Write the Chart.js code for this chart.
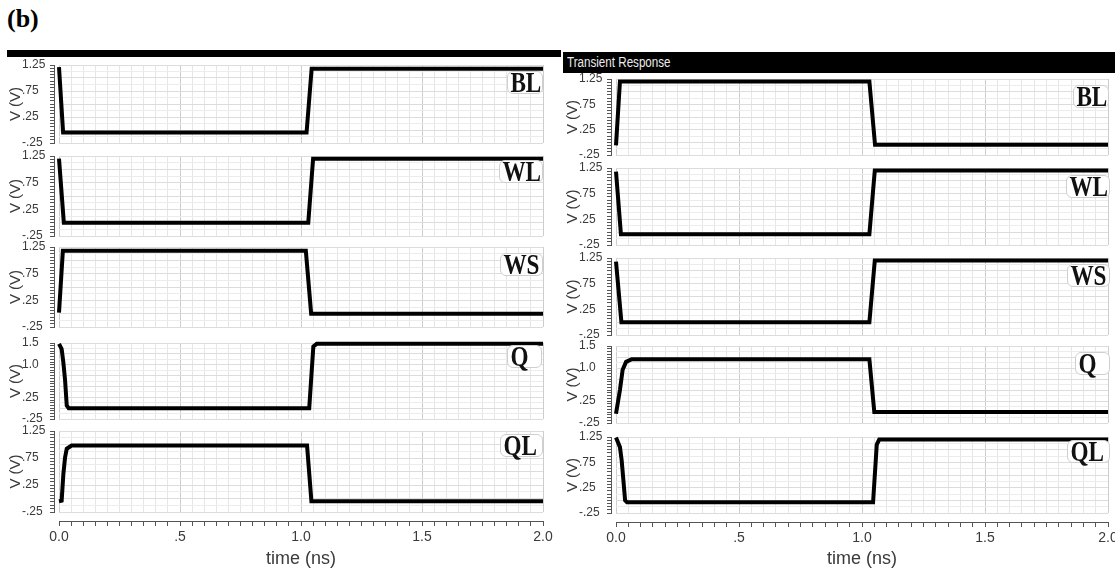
<!DOCTYPE html>
<html>
<head>
<meta charset="utf-8">
<title>Transient Response</title>
<script src="https://cdn.jsdelivr.net/npm/chart.js@4.4.1/dist/chart.umd.min.js"></script>
<style>
  html, body { margin: 0; padding: 0; background: #fff; width: 1115px; height: 572px; overflow: hidden; position: relative; }
  .plot { position: absolute; }
  .bar { position: absolute; background: #000; }
  .bar span { position: absolute; left: 4px; top: 1px; color: #ececec; font: 14px 'Liberation Sans Narrow', 'Liberation Sans', Arial, sans-serif; line-height: 19px; white-space: nowrap; transform: scaleX(0.83); transform-origin: 0 0; }
  .fig { position: absolute; left: 7px; top: 6px; font: bold 26px 'Liberation Serif', 'Times New Roman', serif; line-height: 26px; color: #000; }
  .sig { position: absolute; height: 23px; box-sizing: border-box; border: 1px solid #cfcfcf; border-radius: 6px; background: #fff; z-index: 5; }
  .sig span { display: block; transform: scaleX(0.8); transform-origin: 0 0; font: bold 29px 'Liberation Serif', 'Times New Roman', serif; line-height: 21px; color: #111; padding-left: 3px; white-space: nowrap; }
</style>
</head>
<body>
<div class="fig">(b)</div>
<div class="bar" style="left:7px;top:50px;width:554px;height:7px;"></div>
<div class="bar" style="left:563px;top:52px;width:552px;height:21px;"><span>Transient Response</span></div>

<script>
// ---- axis ticks ----
const xTickValues = [0, 0.5, 1.0, 1.5, 2.0];
const xTickText = ['0.0', '.5', '1.0', '1.5', '2.0'];
const vTickValues = [-0.25, 0.25, 0.75, 1.25];
const vTickText = ['-.25', '.25', '.75', '1.25'];
const qTickValues = [-0.25, 0.25, 1.0, 1.5];
const qTickText = ['-.25', '.25', '1.0', '1.5'];

const signalNames = ['BL', 'WL', 'WS', 'Q', 'QL'];

// ---- left column waveforms: time (ns) / voltage (V) ----
const tBL1 = [0, 0.017, 1.023, 1.044, 2.0];
const vBL1 = [1.21, -0.05, -0.05, 1.18, 1.18];
const tWL1 = [0, 0.02, 1.03, 1.05, 2.0];
const vWL1 = [1.2, 0, 0, 1.2, 1.2];
const tWS1 = [0, 0.016, 1.02, 1.042, 2.0];
const vWS1 = [0.02, 1.18, 1.18, 0, 0];
const tQ1 = [0, 0.011, 0.018, 0.025, 0.032, 0.04, 1.034, 1.051, 1.065, 2.0];
const vQ1 = [1.48, 1.36, 1.05, 0.65, 0.06, 0, 0, 1.42, 1.48, 1.48];
const tQL1 = [0, 0.011, 0.018, 0.025, 0.032, 0.052, 1.025, 1.043, 2.0];
const vQL1 = [-0.05, -0.04, 0.45, 0.76, 0.92, 0.98, 0.98, -0.05, -0.05];

// ---- right column waveforms ----
const tBL2 = [0, 0.016, 1.03, 1.053, 2.0];
const vBL2 = [-0.06, 1.2, 1.2, -0.05, -0.05];
const tWL2 = [0, 0.02, 1.03, 1.052, 2.0];
const vWL2 = [1.18, -0.04, -0.04, 1.2, 1.2];
const tWS2 = [0, 0.022, 1.03, 1.052, 2.0];
const vWS2 = [1.18, 0, 0, 1.2, 1.2];
const tQ2 = [0, 0.016, 0.027, 0.041, 0.064, 1.03, 1.05, 2.0];
const vQ2 = [-0.04, 0.5, 0.96, 1.14, 1.2, 1.2, 0, 0];
const tQL2 = [0, 0.016, 0.023, 0.03, 0.037, 0.045, 1.045, 1.06, 1.07, 2.0];
const vQL2 = [1.24, 1.05, 0.79, 0.4, 0.0, -0.04, -0.04, 1.1, 1.2, 1.2];

const NARROW = "'Liberation Sans Narrow', 'Liberation Sans', Arial, sans-serif";
const SANS = "'Liberation Sans', Arial, sans-serif";
const AXIS_GREY = '#555';
const TEXT_GREY = '#3a3a3a';
const PAGE_H = 572;

const columns = [
  {
    left: 7, width: 550,
    areas: [[65, 143], [156, 236], [247, 327], [343, 419], [431, 512]],
    series: [[tBL1, vBL1], [tWL1, vWL1], [tWS1, vWS1], [tQ1, vQ1], [tQL1, vQL1]],
    labels: [[507, 71, 36], [499, 160, 44], [500, 253, 43], [507, 345, 35], [500, 434, 43]]
  },
  {
    left: 564, width: 558,
    areas: [[79, 155], [168, 245], [258, 335], [346, 423], [437, 513]],
    series: [[tBL2, vBL2], [tWL2, vWL2], [tWS2, vWS2], [tQ2, vQ2], [tQL2, vQL2]],
    labels: [[1073, 85, 36], [1066, 175, 44], [1067, 264, 43], [1075, 352, 35], [1067, 440, 43]]
  }
];

function steps(min, max, step) {
  const out = [];
  const n = Math.round((max - min) / step);
  for (let i = 0; i <= n; i++) out.push(+(min + i * step).toFixed(6));
  return out;
}
function near(a, b) { return Math.abs(a - b) < 1e-6; }
function lookup(vals, text, value) {
  const i = vals.findIndex(v => near(v, value));
  return i >= 0 ? text[i] : '';
}
function setTicks(list) {
  return scale => { scale.ticks = list.map(value => ({ value })); };
}
const fixW = w => scale => { scale.width = w; };
const fixH = h => scale => { scale.height = h; };

function makePlot(col, idx) {
  const [areaTop, areaBottom] = col.areas[idx];
  const [t, v] = col.series[idx];
  const isQ = signalNames[idx] === 'Q';
  const yMin = -0.25, yMax = isQ ? 1.5 : 1.25;
  const tickVals = isQ ? qTickValues : vTickValues;
  const tickText = isQ ? qTickText : vTickText;
  const last = idx === signalNames.length - 1;

  const top = areaTop - 10;
  const height = last ? PAGE_H - top : (areaBottom - areaTop) + 20;

  const wrap = document.createElement('div');
  wrap.className = 'plot';
  wrap.style.left = col.left + 'px';
  wrap.style.top = top + 'px';
  wrap.style.width = col.width + 'px';
  wrap.style.height = height + 'px';
  const canvas = document.createElement('canvas');
  canvas.width = col.width;
  canvas.height = height;
  wrap.appendChild(canvas);
  document.body.appendChild(wrap);

  const hidden = { display: false };
  const scales = {
    // data x axis: only the vertical grid across the plot area
    x: {
      type: 'linear', position: 'bottom', weight: 0, min: 0, max: 2,
      afterBuildTicks: setTicks(steps(0, 2, 0.05)),
      afterFit: fixH(0),
      ticks: hidden, border: hidden,
      grid: {
        drawTicks: false, lineWidth: 1,
        color: c => (c.tick && Math.abs(c.tick.value * 2 - Math.round(c.tick.value * 2)) < 1e-6) ? '#cdcdcd' : '#e6e6e6'
      }
    },
    // data y axis: only the horizontal grid across the plot area
    y: {
      type: 'linear', position: 'left', weight: 0, min: yMin, max: yMax,
      afterBuildTicks: setTicks(steps(yMin, yMax, 0.125)),
      afterFit: fixW(0),
      ticks: hidden, border: hidden,
      grid: {
        drawTicks: false, lineWidth: 1,
        color: c => (c.tick && Math.abs(c.tick.value * 4 - Math.round(c.tick.value * 4)) < 1e-6) ? '#dcdcdc' : '#ececec'
      }
    },
    // gap between the plot area and the voltage axis line
    ys: {
      type: 'linear', position: 'left', weight: 1, min: yMin, max: yMax,
      afterFit: fixW(5), ticks: hidden, border: hidden, grid: hidden
    },
    // voltage axis: line, fine ticks and labels
    ya: {
      type: 'linear', position: 'left', weight: 2, min: yMin, max: yMax,
      afterBuildTicks: setTicks(steps(yMin, yMax, 0.0625)),
      afterFit: fixW(32),
      border: { display: true, color: AXIS_GREY, width: 1 },
      grid: { drawOnChartArea: false, drawTicks: true, tickLength: 4, tickColor: AXIS_GREY, tickWidth: 1 },
      ticks: {
        autoSkip: false, crossAlign: 'far', padding: 2, color: TEXT_GREY,
        font: { family: NARROW, size: 12 },
        callback: value => lookup(tickVals, tickText, value)
      }
    },
    // voltage axis title
    yt: {
      type: 'linear', position: 'left', weight: 3, min: yMin, max: yMax,
      afterFit: fixW(15), ticks: hidden, border: hidden, grid: hidden,
      title: { display: true, text: 'V (V)', color: TEXT_GREY, padding: 0, font: { family: SANS, size: 15 } }
    }
  };

  if (last) {
    // gap between the plot area and the time axis line
    scales.xs = {
      type: 'linear', position: 'bottom', weight: 1, min: 0, max: 2,
      afterFit: fixH(9), ticks: hidden, border: hidden, grid: hidden
    };
    // time axis
    scales.xa = {
      type: 'linear', position: 'bottom', weight: 2, min: 0, max: 2,
      afterBuildTicks: setTicks(steps(0, 2, 0.05)),
      afterFit: fixH(PAGE_H - areaBottom - 9),
      border: { display: true, color: AXIS_GREY, width: 1 },
      grid: { drawOnChartArea: false, drawTicks: true, tickLength: 5, tickColor: AXIS_GREY, tickWidth: 1 },
      ticks: {
        autoSkip: false, maxRotation: 0, minRotation: 0, padding: 3, color: TEXT_GREY,
        font: { family: NARROW, size: 14 },
        callback: value => lookup(xTickValues, xTickText, value)
      },
      title: { display: true, text: 'time (ns)', color: TEXT_GREY, padding: { top: 0, bottom: 2 }, font: { family: NARROW, size: 18 } }
    };
  }

  new Chart(canvas, {
    type: 'line',
    data: {
      datasets: [{
        label: signalNames[idx],
        data: t.map((x, i) => ({ x, y: v[i] })),
        xAxisID: 'x', yAxisID: 'y',
        borderColor: '#000', borderWidth: 4, pointRadius: 0, tension: 0, fill: false, clip: 4
      }]
    },
    options: {
      responsive: false, animation: false, devicePixelRatio: 1,
      layout: { padding: { top: 10, bottom: last ? 0 : 10, left: 0, right: 14 } },
      plugins: { legend: { display: false }, tooltip: { enabled: false } },
      scales
    }
  });

  // signal name tag in the upper right of the plot
  const [lx, ly, lw] = col.labels[idx];
  const tag = document.createElement('div');
  tag.className = 'sig';
  tag.style.left = lx + 'px';
  tag.style.top = ly + 'px';
  tag.style.width = lw + 'px';
  const s = document.createElement('span');
  s.textContent = signalNames[idx];
  tag.appendChild(s);
  document.body.appendChild(tag);
}

columns.forEach(col => signalNames.forEach((_, i) => makePlot(col, i)));
</script>
</body>
</html>
